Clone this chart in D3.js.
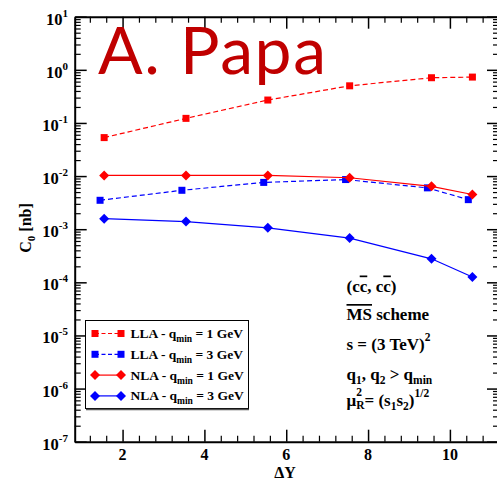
<!DOCTYPE html>
<html>
<head>
<meta charset="utf-8">
<script src="https://cdn.jsdelivr.net/npm/d3@7"></script>
<style>
  html, body { margin: 0; padding: 0; background: #fff; }
  svg { display: block; }
  text { font-family: "Liberation Serif", "Times New Roman", serif; font-weight: bold; fill: #000; }
</style>
</head>
<body>
<svg id="chart" width="497" height="482"></svg>
<script>
// Rapidity interval ΔY for each computed point
const deltaY = [1.55, 3.55, 5.55, 7.55, 9.55, 10.55];
const deltaYShifted = [1.45, 3.45, 5.45, 7.45, 9.45, 10.45];

// C0 [nb] for each approximation and q_min
const llaQmin1 = [0.053, 0.122, 0.27, 0.50, 0.71, 0.73];
const llaQmin3 = [0.0035, 0.0054, 0.0076, 0.0086, 0.0060, 0.0036];
const nlaQmin1 = [0.0103, 0.0103, 0.0103, 0.0093, 0.0064, 0.0045];
const nlaQmin3 = [0.00158, 0.00139, 0.00106, 0.00068, 0.000277, 0.000126];

const seriesNames = ["LLA - q", "LLA - q", "NLA - q", "NLA - q"];
const seriesQmin = ["1 GeV", "3 GeV", "1 GeV", "3 GeV"];

const xTicks = [2, 4, 6, 8, 10];
const yExponents = [1, 0, -1, -2, -3, -4, -5, -6, -7];

const series = [
  { name: seriesNames[0], q: seriesQmin[0], xs: deltaY, ys: llaQmin1, color: "#ff0000", dash: "5,3", marker: "square" },
  { name: seriesNames[1], q: seriesQmin[1], xs: deltaYShifted, ys: llaQmin3, color: "#0000ff", dash: "5,3", marker: "square" },
  { name: seriesNames[2], q: seriesQmin[2], xs: deltaY, ys: nlaQmin1, color: "#ff0000", dash: null, marker: "diamond" },
  { name: seriesNames[3], q: seriesQmin[3], xs: deltaY, ys: nlaQmin3, color: "#0000ff", dash: null, marker: "diamond" }
];

const svg = d3.select("#chart");
const frameL = 74.7, frameR = 499, frameT = 16.7, frameB = 441.7;

const x = d3.scaleLinear().domain([0.83, 11.2]).range([frameL, frameR]);
const y = d3.scaleLog().domain([1e-7, 10]).range([frameB, frameT]);

// minor ticks
const xMinor = d3.range(1.2, 11.2, 0.4).filter(v => Math.abs(v / 2 - Math.round(v / 2)) > 1e-6);
const yMinor = [];
for (let e = -7; e < 1; e++) for (let m = 2; m <= 9; m++) yMinor.push(m * Math.pow(10, e));
const yMajor = yExponents.map(e => Math.pow(10, e));

function styleAxis(g) {
  g.selectAll("text").remove();
  g.select(".domain").attr("stroke", "#000").attr("stroke-width", 2);
  g.selectAll(".tick line").attr("stroke", "#000").attr("stroke-width", 1.5);
}
function minorAxis(g) {
  g.selectAll("text").remove();
  g.select(".domain").remove();
  g.selectAll(".tick line").attr("stroke", "#000").attr("stroke-width", 1.2);
}

const axes = svg.append("g");
axes.append("g").attr("transform", `translate(0,${frameB})`)
  .call(d3.axisBottom(x).tickValues(xMinor).tickSize(-6).tickSizeOuter(0)).call(minorAxis);
axes.append("g").attr("transform", `translate(0,${frameT})`)
  .call(d3.axisTop(x).tickValues(xMinor).tickSize(-6).tickSizeOuter(0)).call(minorAxis);
axes.append("g").attr("transform", `translate(${frameL},0)`)
  .call(d3.axisLeft(y).tickValues(yMinor).tickSize(-6).tickSizeOuter(0)).call(minorAxis);
axes.append("g").attr("transform", `translate(${frameR},0)`)
  .call(d3.axisRight(y).tickValues(yMinor).tickSize(-6).tickSizeOuter(0)).call(minorAxis);

axes.append("g").attr("transform", `translate(0,${frameB})`)
  .call(d3.axisBottom(x).tickValues(xTicks).tickSize(-12).tickSizeOuter(0)).call(styleAxis);
axes.append("g").attr("transform", `translate(0,${frameT})`)
  .call(d3.axisTop(x).tickValues(xTicks).tickSize(-12).tickSizeOuter(0)).call(styleAxis);
axes.append("g").attr("transform", `translate(${frameL},0)`)
  .call(d3.axisLeft(y).tickValues(yMajor).tickSize(-12).tickSizeOuter(0)).call(styleAxis);
axes.append("g").attr("transform", `translate(${frameR},0)`)
  .call(d3.axisRight(y).tickValues(yMajor).tickSize(-12).tickSizeOuter(0)).call(styleAxis);

// x tick labels
svg.append("g").selectAll("text").data(xTicks).join("text")
  .attr("x", d => x(d)).attr("y", 460).attr("text-anchor", "middle")
  .attr("font-size", 16).text(d => d);

// y tick labels as powers of ten
const yl = svg.append("g").selectAll("text").data(yExponents).join("text")
  .attr("x", 68).attr("y", d => y(Math.pow(10, d)) + 8).attr("text-anchor", "end")
  .attr("font-size", 16.5);
yl.append("tspan").text("10");
yl.append("tspan").attr("font-size", 11).attr("dy", -8).text(d => d < 0 ? "-" + (-d) : String(d));

// axis titles
const yt = svg.append("text").attr("transform", "translate(31,228) rotate(-90)")
  .attr("text-anchor", "middle").attr("font-size", 16);
yt.append("tspan").text("C");
yt.append("tspan").attr("font-size", 11).attr("dy", 4).text("0");
yt.append("tspan").attr("dy", -4).text(" [nb]");

svg.append("text").attr("x", 285).attr("y", 478).attr("text-anchor", "middle")
  .attr("font-size", 16).text("ΔY");

// data lines and markers
const line = d3.line().x(d => x(d[0])).y(d => y(d[1]));
function drawMarker(g, type, cx, cy, color) {
  if (type === "square") {
    g.append("rect").attr("x", cx - 3.5).attr("y", cy - 3.5).attr("width", 7).attr("height", 7).attr("fill", color);
  } else {
    g.append("path").attr("d", `M${cx},${cy - 5}L${cx + 5},${cy}L${cx},${cy + 5}L${cx - 5},${cy}Z`).attr("fill", color);
  }
}
const plot = svg.append("g");
series.forEach(s => {
  const pts = s.xs.map((v, i) => [v, s.ys[i]]);
  plot.append("path").attr("d", line(pts)).attr("fill", "none")
    .attr("stroke", s.color).attr("stroke-width", 1.2)
    .attr("stroke-dasharray", s.dash);
  pts.forEach(p => drawMarker(plot, s.marker, x(p[0]), y(p[1]), s.color));
});

// title
svg.append("text").attr("x", 98).attr("y", 74)
  .style("font-family", "Lato, 'Open Sans', sans-serif").style("font-weight", "normal")
  .style("fill", "#c00000").style("letter-spacing", "1.6px").attr("font-size", 66).text("A. Papa");

// legend
const lg = svg.append("g");
lg.append("rect").attr("x", 85.5).attr("y", 320.5).attr("width", 163).attr("height", 88)
  .attr("fill", "#fff").attr("stroke", "#000").attr("stroke-width", 1);
lg.append("line").attr("x1", 86).attr("x2", 249).attr("y1", 409.5).attr("y2", 409.5).attr("stroke", "#555").attr("stroke-width", 1.5);
const rowY = [333.5, 354.3, 375.1, 395.9];
series.forEach((s, i) => {
  const ry = rowY[i];
  lg.append("line").attr("x1", 95).attr("x2", 121).attr("y1", ry).attr("y2", ry)
    .attr("stroke", s.color).attr("stroke-width", 1.2).attr("stroke-dasharray", s.dash ? "4,2.5" : null);
  drawMarker(lg, s.marker, 95, ry, s.color);
  drawMarker(lg, s.marker, 121, ry, s.color);
  const t = lg.append("text").attr("x", 130.5).attr("y", ry + 4.5).attr("font-size", 13.5);
  t.append("tspan").text(s.name);
  t.append("tspan").attr("font-size", 9.5).attr("dy", 4).text("min");
  t.append("tspan").attr("dy", -4).text(" = " + s.q);
});

// physics setup annotation
const ax = 346.5;
const fs = 17, fsSmall = 11.5;
const a1 = svg.append("text").attr("x", ax).attr("y", 291.5).attr("font-size", fs);
a1.append("tspan").text("(c");
a1.append("tspan").attr("text-decoration", "overline").text("c");
a1.append("tspan").text(", c");
a1.append("tspan").attr("text-decoration", "overline").text("c");
a1.append("tspan").text(")");

const a2 = svg.append("text").attr("x", ax).attr("y", 320).attr("font-size", fs);
a2.append("tspan").attr("text-decoration", "overline").text("MS");
a2.append("tspan").text(" scheme");

const a3 = svg.append("text").attr("x", ax).attr("y", 350).attr("font-size", fs);
a3.append("tspan").text("s = (3 TeV)");
a3.append("tspan").attr("font-size", fsSmall).attr("dy", -9).text("2");

const a4 = svg.append("text").attr("x", ax).attr("y", 380).attr("font-size", fs);
a4.append("tspan").text("q");
a4.append("tspan").attr("font-size", fsSmall).attr("dy", 4).text("1");
a4.append("tspan").attr("dy", -4).text(", q");
a4.append("tspan").attr("font-size", fsSmall).attr("dy", 4).text("2");
a4.append("tspan").attr("dy", -4).text(" > q");
a4.append("tspan").attr("font-size", fsSmall).attr("dy", 4).text("min");

const a5 = svg.append("text").attr("x", ax).attr("y", 406).attr("font-size", fs);
a5.append("tspan").text("μ");
const sup2 = a5.append("tspan").attr("font-size", fsSmall).attr("dy", -10).text("2");
const subR = a5.append("tspan").attr("font-size", fsSmall).attr("dy", 13).text("R");
a5.append("tspan").attr("dy", -3).text("= (s");
a5.append("tspan").attr("font-size", fsSmall).attr("dy", 4).text("1");
a5.append("tspan").attr("dy", -4).text("s");
a5.append("tspan").attr("font-size", fsSmall).attr("dy", 4).text("2");
a5.append("tspan").attr("dy", -4).text(")");
a5.append("tspan").attr("font-size", fsSmall).attr("dy", -9).text("1/2");
// stack the R subscript under the superscript 2
const w2 = sup2.node().getComputedTextLength();
subR.attr("dx", -w2);
</script>
</body>
</html>
